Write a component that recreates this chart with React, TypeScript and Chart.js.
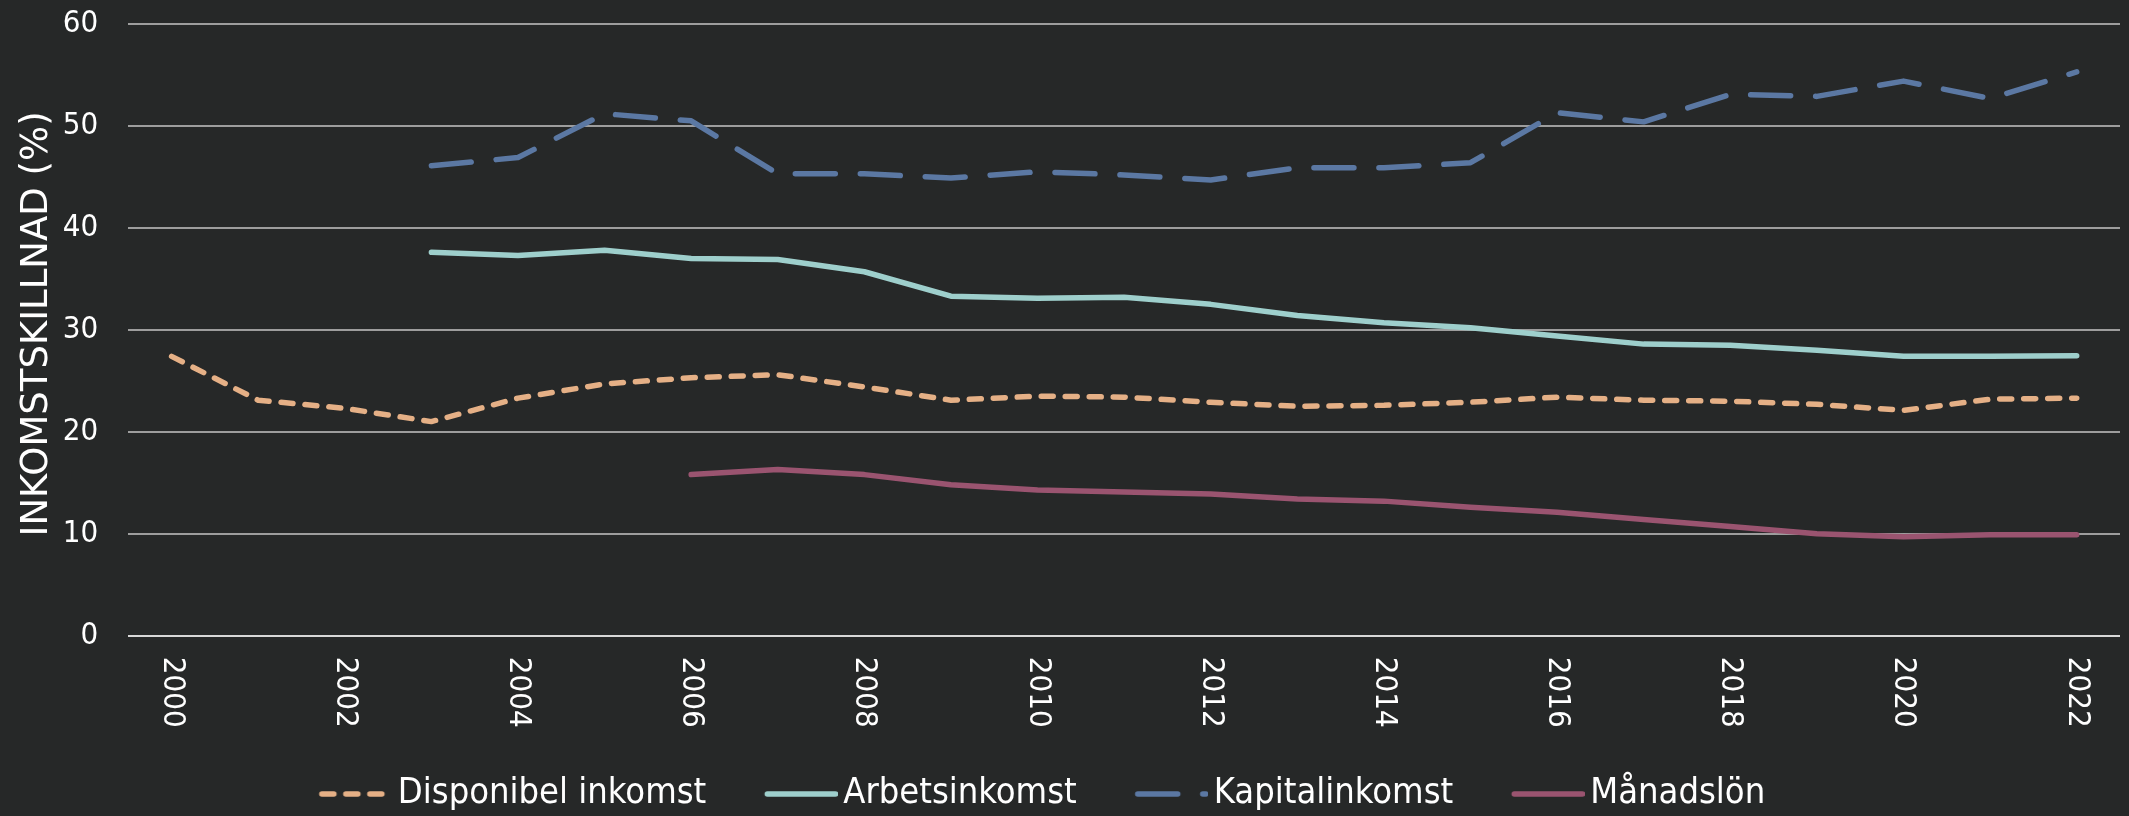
import React, { useEffect, useRef } from 'react';
import { Chart, registerables } from 'chart.js';

Chart.register(...registerables);

const FONT = "'DejaVu Sans Condensed', 'DejaVu Sans', sans-serif";
const TITLE_FONT = "'DejaVu Sans', sans-serif";

const YEARS = [
  '2000', '2001', '2002', '2003', '2004', '2005', '2006', '2007', '2008', '2009', '2010', '2011',
  '2012', '2013', '2014', '2015', '2016', '2017', '2018', '2019', '2020', '2021', '2022',
];
const TICK_YEARS = ['2000', '2002', '2004', '2006', '2008', '2010', '2012', '2014', '2016', '2018', '2020', '2022'];

const DISPONIBEL = [27.4, 23.1, 22.3, 21.0, 23.3, 24.7, 25.3, 25.6, 24.4, 23.1, 23.5, 23.4, 22.9, 22.5, 22.6, 22.9, 23.4, 23.1, 23.0, 22.7, 22.1, 23.2, 23.3];
const ARBETS = [null, null, null, 37.6, 37.3, 37.8, 37.0, 36.9, 35.7, 33.3, 33.1, 33.2, 32.5, 31.4, 30.7, 30.2, 29.4, 28.6, 28.5, 28.0, 27.4, 27.4, 27.45];
const KAPITAL = [null, null, null, 46.1, 46.9, 51.2, 50.5, 45.3, 45.3, 44.9, 45.5, 45.2, 44.7, 45.9, 45.9, 46.4, 51.3, 50.4, 53.1, 52.9, 54.4, 52.7, 55.3];
const MANADS = [null, null, null, null, null, null, 15.8, 16.3, 15.8, 14.8, 14.3, 14.1, 13.9, 13.4, 13.2, 12.6, 12.1, 11.4, 10.7, 10.0, 9.7, 9.9, 9.9];

const SERIES = [
  { label: 'Disponibel inkomst', data: DISPONIBEL, color: '#E5B086', dash: [12, 12] },
  { label: 'Arbetsinkomst', data: ARBETS, color: '#9ECFCC', dash: [] as number[] },
  { label: 'Kapitalinkomst', data: KAPITAL, color: '#5B78A3', dash: [40, 25] },
  { label: 'Månadslön', data: MANADS, color: '#9A5470', dash: [] as number[] },
];

function makeSymbol(color: string, dash: number[]) {
  const c = document.createElement('canvas');
  c.width = 83;
  c.height = 12;
  const g = c.getContext('2d')!;
  g.strokeStyle = color;
  g.lineWidth = 5.5;
  g.lineCap = 'round';
  g.setLineDash(dash);
  g.beginPath();
  g.moveTo(12.5, 6);
  g.lineTo(80.5, 6);
  g.stroke();
  return c;
}

const xLabelPlugin = {
  id: 'xLabelsRotated',
  afterDraw(chart: any) {
    const { ctx, chartArea, scales } = chart;
    const xs = scales.x;
    ctx.save();
    ctx.fillStyle = '#ffffff';
    ctx.font = `31px ${FONT}`;
    ctx.textAlign = 'left';
    ctx.textBaseline = 'middle';
    TICK_YEARS.forEach((lbl) => {
      const px = xs.getPixelForValue(YEARS.indexOf(lbl));
      ctx.save();
      ctx.translate(px, chartArea.bottom + 21);
      ctx.rotate(Math.PI / 2);
      ctx.fillText(lbl, 0, 0);
      ctx.restore();
    });
    ctx.restore();
  },
};

export default function App() {
  const ref = useRef<HTMLCanvasElement | null>(null);

  useEffect(() => {
    document.body.style.background = '#262828';
    const canvas = ref.current!;
    const symbols = SERIES.map((s) => makeSymbol(s.color, s.dash));
    const chart = new Chart(canvas, {
      type: 'line',
      data: {
        labels: YEARS,
        datasets: SERIES.map((s) => ({
          label: s.label,
          data: s.data as any,
          borderColor: s.color,
          backgroundColor: s.color,
          borderWidth: 5.5,
          borderDash: s.dash,
          borderCapStyle: 'round',
          borderJoinStyle: 'round',
          pointRadius: 0,
          pointHoverRadius: 0,
          tension: 0,
          fill: false,
          spanGaps: false,
        })),
      },
      options: {
        responsive: false,
        animation: false,
        events: [],
        layout: { padding: { top: 24, right: 9, bottom: -6, left: 0 } },
        plugins: {
          tooltip: { enabled: false },
          legend: {
            position: 'bottom',
            labels: {
              usePointStyle: true,
              pointStyleWidth: 58,
              padding: 61,
              color: '#ffffff',
              font: { family: FONT, size: 36 },
              generateLabels: () =>
                SERIES.map((s, i) => ({
                  text: s.label,
                  fillStyle: s.color,
                  strokeStyle: s.color,
                  lineWidth: 5,
                  pointStyle: symbols[i] as any,
                  fontColor: '#ffffff',
                  hidden: false,
                  datasetIndex: i,
                })),
            },
          },
        },
        scales: {
          x: {
            type: 'category',
            offset: true,
            grid: { display: false },
            border: { display: false },
            ticks: { display: false },
            afterFit: (s: any) => {
              s.height = 79.3;
              s.paddingLeft = 0;
              s.paddingRight = 0;
            },
          },
          y: {
            min: 0,
            max: 60,
            border: { display: false },
            grid: {
              drawTicks: false,
              lineWidth: 2,
              color: (c: any) => (c.tick && c.tick.value === 0 ? '#d8d8d8' : '#9d9d9d'),
            },
            ticks: {
              stepSize: 10,
              padding: 30,
              color: '#ffffff',
              font: { family: FONT, size: 31 },
            },
            title: {
              display: true,
              text: ' INKOMSTSKILLNAD (%)',
              color: '#ffffff',
              font: { family: TITLE_FONT, size: 37 },
              padding: { top: 48, bottom: 0 },
            },
            afterFit: (s: any) => {
              s.width = 161.3;
              s.paddingTop = 0;
              s.paddingBottom = 0;
            },
          },
        },
      },
      plugins: [xLabelPlugin],
    });
    return () => chart.destroy();
  }, []);

  return (
    <div
      style={{
        position: 'fixed',
        left: -33,
        top: 0,
        width: 2162,
        height: 816,
        background: '#262828',
        overflow: 'hidden',
      }}
    >
      <canvas ref={ref} width={2162} height={816} style={{ display: 'block' }} />
    </div>
  );
}
